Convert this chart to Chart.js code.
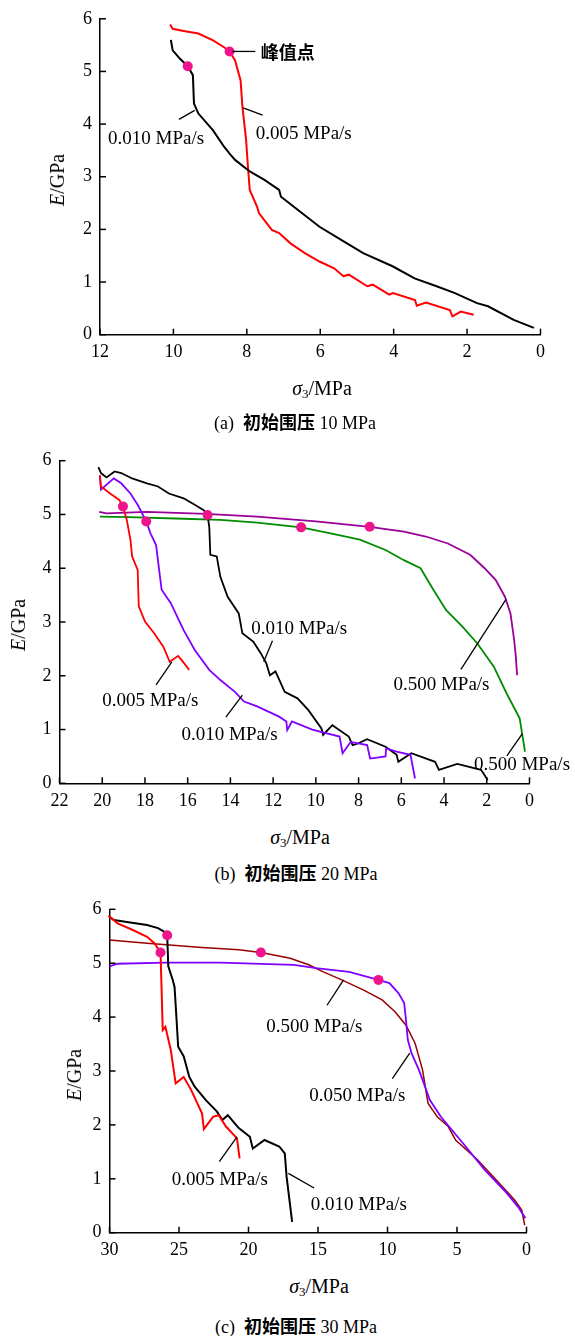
<!DOCTYPE html>
<html><head><meta charset="utf-8">
<script src="https://cdn.jsdelivr.net/npm/chart.js@4.4.1/dist/chart.umd.min.js"></script>
<style>
html,body{margin:0;padding:0;background:#fff;}
#page{position:relative;width:575px;height:1336px;overflow:hidden;font-family:"Liberation Serif","Times New Roman",Times,serif;color:#000;}
.panel{position:absolute;left:0;width:575px;height:380px;}
.panel canvas{position:absolute;left:0;top:0;}
.t{position:absolute;white-space:nowrap;line-height:1;transform:translate(-50%,-50%);}
.ann{position:absolute;white-space:nowrap;line-height:1;font-size:19px;}
.ytitle{font-size:20px;transform:translate(-50%,-50%) rotate(-90deg);}
.xtitle{font-size:20px;}
.xtitle sub{font-size:13px;vertical-align:-3px;line-height:0;}
.cap{font-size:18px;}
.cjk{font-family:"Noto Sans CJK SC","Noto Sans CJK JP",sans-serif;font-weight:bold;}
</style>
</head><body>
<div id="page">
  <div class="panel" id="pA" style="top:0px"><canvas id="cA" width="575" height="380"></canvas></div>
  <div class="panel" id="pB" style="top:440px"><canvas id="cB" width="575" height="380"></canvas></div>
  <div class="panel" id="pC" style="top:890px"><canvas id="cC" width="575" height="380"></canvas></div>

  <div class="t ytitle" style="left:57px;top:180px"><i>E</i>/GPa</div>
  <div class="t xtitle" style="left:322px;top:388px"><i>σ</i><sub>3</sub>/MPa</div>
  <div class="t cap" style="left:295px;top:422px">(a)&nbsp;&nbsp;<span class="cjk">初始围压</span> 10 MPa</div>

  <div class="t ytitle" style="left:18px;top:625px"><i>E</i>/GPa</div>
  <div class="t xtitle" style="left:300px;top:837px"><i>σ</i><sub>3</sub>/MPa</div>
  <div class="t cap" style="left:296px;top:873px">(b)&nbsp;&nbsp;<span class="cjk">初始围压</span> 20 MPa</div>

  <div class="t ytitle" style="left:74px;top:1075px"><i>E</i>/GPa</div>
  <div class="t xtitle" style="left:319px;top:1286px"><i>σ</i><sub>3</sub>/MPa</div>
  <div class="t cap" style="left:296px;top:1326px">(c)&nbsp;&nbsp;<span class="cjk">初始围压</span> 30 MPa</div>
</div>
<script>
// ---------------- DATA ----------------
// Panel (a): initial confining pressure 10 MPa
const sigA_010 = [10.07,10.02,9.82,9.61,9.47,9.44,9.32,8.92,8.62,8.47,8.32,7.92,7.52,7.12,7.07,6.72,6.02,5.43,4.83,4.03,3.43,2.83,2.33,1.73,1.43,0.73,0.18];
const eA_010   = [5.60,5.40,5.24,5.10,4.93,4.39,4.20,3.88,3.57,3.44,3.32,3.10,2.94,2.75,2.62,2.43,2.05,1.80,1.55,1.30,1.07,0.92,0.79,0.60,0.54,0.28,0.13];
const sigA_005 = [10.09,10.02,9.72,9.32,8.92,8.62,8.47,8.32,8.17,8.12,8.02,7.97,7.92,7.72,7.67,7.32,7.12,6.82,6.42,6.02,5.62,5.37,5.22,4.72,4.57,4.12,4.02,3.42,3.37,3.12,2.47,2.40,2.17,1.82];
const eA_005   = [5.89,5.81,5.77,5.72,5.59,5.46,5.38,5.21,4.83,4.33,3.70,3.19,2.75,2.43,2.31,1.99,1.93,1.74,1.55,1.39,1.26,1.11,1.14,0.92,0.95,0.76,0.79,0.66,0.55,0.61,0.47,0.35,0.44,0.38];
const peakA_sig = [9.61, 8.47];
const peakA_e   = [5.10, 5.38];

// Panel (b): initial confining pressure 20 MPa
const sigB_010k = [20.18,20.06,19.80,19.42,19.11,18.60,17.91,17.39,16.88,16.19,15.67,15.25,15.07,14.99,14.94,14.64,14.47,14.13,13.61,13.44,12.92,12.58,12.32,12.15,11.89,11.46,10.86,10.35,9.74,9.66,9.23,8.46,8.28,8.03,7.60,6.74,6.22,6.14,5.53,4.42,4.24,3.38,2.27,2.10,1.96];
const eB_010k   = [5.88,5.77,5.69,5.80,5.77,5.67,5.58,5.52,5.39,5.30,5.18,5.08,4.99,4.77,4.25,4.22,3.84,3.47,3.16,2.79,2.63,2.42,2.23,2.01,2.08,1.70,1.58,1.36,1.02,0.90,1.08,0.87,0.71,0.74,0.82,0.68,0.53,0.40,0.56,0.40,0.25,0.36,0.25,0.15,0.06];
const sigB_005  = [20.11,20.06,19.63,19.20,19.03,18.85,18.68,18.60,18.34,18.29,18.00,17.57,17.14,16.84,16.45,16.28,15.93];
const eB_005    = [5.73,5.52,5.39,5.27,5.15,4.90,4.53,4.22,3.97,3.29,3.01,2.79,2.54,2.26,2.37,2.29,2.11];
const sigB_010v = [20.11,20.06,19.46,19.11,18.68,18.34,17.94,17.74,17.48,17.22,16.79,16.19,15.67,14.99,14.47,13.79,13.36,12.75,11.72,11.38,11.34,11.12,10.17,8.89,8.75,8.37,7.60,7.46,6.74,6.71,6.22,5.57,5.36];
const eB_010v   = [5.73,5.46,5.67,5.58,5.39,5.18,4.87,4.65,4.43,3.60,3.35,2.85,2.48,2.11,1.92,1.70,1.52,1.43,1.24,1.15,0.99,1.15,1.00,0.87,0.56,0.77,0.71,0.46,0.50,0.65,0.59,0.53,0.09];
const sigB_500p = [20.14,19.80,17.91,15.16,12.75,10.00,7.48,5.88,4.85,3.82,2.78,2.10,1.58,1.15,0.89,0.72,0.64,0.58];
const eB_500p   = [5.05,5.02,5.05,5.01,4.96,4.87,4.77,4.68,4.59,4.46,4.25,4.00,3.78,3.47,3.16,2.67,2.36,2.01];
const sigB_500g = [20.11,18.77,16.19,14.47,12.75,10.69,9.31,7.94,6.74,5.88,5.10,4.50,3.90,3.13,2.44,1.67,1.07,0.46,0.21];
const eB_500g   = [4.96,4.95,4.92,4.90,4.85,4.76,4.65,4.53,4.34,4.15,4.00,3.60,3.22,2.91,2.60,2.17,1.67,1.21,0.59];
const peakB_sig = [19.03,17.94,15.07,10.69,7.48];
const peakB_e   = [5.15,4.87,4.99,4.76,4.77];

// Panel (c): initial confining pressure 30 MPa
const sigC_010 = [30.00,29.68,28.63,27.30,26.51,26.11,25.85,25.77,25.45,25.32,25.19,25.06,24.66,24.26,23.87,23.07,22.28,21.88,21.49,20.70,19.90,19.69,18.85,17.79,17.39,17.26,16.86];
const eC_010   = [5.86,5.80,5.76,5.71,5.65,5.59,5.52,4.94,4.69,4.56,4.01,3.45,3.27,2.89,2.71,2.46,2.25,2.09,2.18,1.94,1.78,1.56,1.72,1.60,1.47,1.04,0.20];
const sigC_005 = [30.08,29.42,28.36,27.30,26.77,26.33,26.25,26.17,25.98,25.59,25.24,24.66,24.13,23.34,23.21,22.55,22.15,21.62,20.83,20.64];
const eC_005   = [5.88,5.74,5.62,5.49,5.37,5.20,4.50,3.76,3.82,3.39,2.77,2.89,2.65,2.21,1.92,2.15,2.18,1.97,1.75,1.38];
const sigC_500 = [30.00,27.30,23.34,20.70,19.11,17.00,15.67,14.62,13.29,11.71,10.39,9.46,8.67,8.01,7.48,7.08,6.42,5.63,5.10,3.51,2.19,0.87,0.34,0.13];
const eC_500   = [5.43,5.37,5.29,5.25,5.20,5.09,4.97,4.84,4.69,4.50,4.32,4.10,3.85,3.51,3.02,2.40,2.15,1.97,1.72,1.35,0.98,0.61,0.42,0.14];
const sigC_050 = [30.00,29.42,25.98,22.02,16.73,15.14,12.76,10.65,9.86,9.20,8.80,8.67,8.54,8.27,7.74,6.95,6.16,4.57,2.99,1.40,0.61,0.08];
const eC_050   = [4.94,4.99,5.01,5.01,4.97,4.91,4.84,4.69,4.63,4.44,4.26,3.95,3.58,3.33,3.02,2.46,2.15,1.66,1.16,0.73,0.48,0.27];
const peakC_sig = [26.33,25.85,19.11,10.65];
const peakC_e   = [5.20,5.52,5.20,4.69];

// Axis ticks
const yTicksMax = 6, yStep = 1;
const xMaxA = 12, xStepA = 2;
const xMaxB = 22, xStepB = 2;
const xMaxC = 30, xStepC = 5;

// Annotation labels (data coordinates) and leader lines
const annA = [
  {text:'峰值点', x:7.62, y:5.39, left:true, cjk:true},
  {text:'0.010 MPa/s', x:10.47, y:3.76},
  {text:'0.005 MPa/s', x:6.45, y:3.85}
];
const leadA = [[8.40,5.38,7.77,5.38],[9.85,4.09,9.42,4.26],[8.10,4.31,7.57,4.17]];
const annB = [
  {text:'0.010 MPa/s', x:10.78, y:2.91},
  {text:'0.005 MPa/s', x:17.75, y:1.56},
  {text:'0.010 MPa/s', x:14.04, y:0.94},
  {text:'0.500 MPa/s', x:4.12, y:1.86},
  {text:'0.500 MPa/s', x:0.35, y:0.37}
];
const leadB = [[12.03,2.65,12.44,2.26],[17.48,1.83,16.74,2.26],[14.21,1.23,13.44,1.64],[3.21,2.12,1.10,3.42],[1.06,0.51,0.34,0.92]];
const annC = [
  {text:'0.500 MPa/s', x:15.26, y:3.85},
  {text:'0.050 MPa/s', x:12.17, y:2.57},
  {text:'0.005 MPa/s', x:22.06, y:1.01},
  {text:'0.010 MPa/s', x:12.06, y:0.56}
];
const leadC = [[14.35,4.22,13.16,4.69],[9.65,2.86,8.40,3.33],[22.10,1.32,20.83,1.78],[15.28,0.83,17.13,1.10]];

// ---------------- STYLE ----------------
const C_RED='#FF0000', C_BLACK='#000000', C_VIOLET='#7F00FF', C_PURPLE='#990099', C_GREEN='#008C00', C_BROWN='#990000', C_DOT='#F0148C';
const SERIF = "'Liberation Serif','Times New Roman',Times,serif";

function zip(xs, ys){ return xs.map((x,i)=>({x:x, y:ys[i]})); }
function line(xs, ys, color, w){
  return {data: zip(xs,ys), borderColor: color, backgroundColor: color, borderWidth: w||1.8,
          pointRadius: 0, fill:false, tension:0, clip:false, order: 1};
}
function peaks(xs, ys){
  return {data: zip(xs,ys), showLine:false, pointRadius:5, pointHoverRadius:5, pointBorderWidth:0,
          pointBackgroundColor:C_DOT, borderColor:C_DOT, backgroundColor:C_DOT, clip:false, order:0};
}

const extras = {};
const deco = {
  id:'deco',
  afterDraw(chart){
    const ex = extras[chart.canvas.id]; if(!ex) return;
    const xs = chart.scales.x, ys = chart.scales.y, ctx = chart.ctx;
    ctx.save();
    ctx.strokeStyle = '#000'; ctx.lineWidth = 1.5;
    // inward tick marks
    xs.ticks.forEach(t=>{ const px = xs.getPixelForValue(t.value); ctx.beginPath(); ctx.moveTo(px, ys.bottom); ctx.lineTo(px, ys.bottom-6); ctx.stroke(); });
    ys.ticks.forEach(t=>{ const py = ys.getPixelForValue(t.value); ctx.beginPath(); ctx.moveTo(xs.left, py); ctx.lineTo(xs.left+6, py); ctx.stroke(); });
    // leader lines
    ctx.lineWidth = 1.3;
    ex.leaders.forEach(l=>{ ctx.beginPath(); ctx.moveTo(xs.getPixelForValue(l[0]), ys.getPixelForValue(l[1])); ctx.lineTo(xs.getPixelForValue(l[2]), ys.getPixelForValue(l[3])); ctx.stroke(); });
    ctx.restore();
    // annotation text (DOM text, positioned through the scales)
    const panel = chart.canvas.parentNode;
    ex.anns.forEach(a=>{
      const d = document.createElement('div');
      d.className = 'ann' + (a.cjk ? ' cjk' : '');
      if (a.cjk) d.style.fontSize = '18px';
      d.textContent = a.text;
      d.style.left = xs.getPixelForValue(a.x) + 'px';
      d.style.top = ys.getPixelForValue(a.y) + 'px';
      d.style.transform = a.left ? 'translate(0,-50%)' : 'translate(-50%,-50%)';
      panel.appendChild(d);
    });
    ex.anns = [];
  }
};

function build(id, datasets, xMax, xStep, pad, anns, leaders){
  extras[id] = {anns: anns.slice(), leaders: leaders};
  const tickFont = {family: SERIF, size: 18};
  return new Chart(document.getElementById(id), {
    type: 'line',
    data: {datasets: datasets},
    options: {
      responsive:false, animation:false, events:[],
      layout:{padding: pad},
      plugins:{legend:{display:false}, tooltip:{enabled:false}, title:{display:false}},
      scales:{
        x:{type:'linear', reverse:true, min:0, max:xMax,
           ticks:{stepSize:xStep, font:tickFont, color:'#000', padding:7, maxRotation:0, autoSkip:false},
           grid:{display:false, drawTicks:false}, border:{display:true, color:'#000', width:1.5},
           afterFit(s){ s.height = 30; }},
        y:{type:'linear', min:0, max:yTicksMax,
           ticks:{stepSize:yStep, font:tickFont, color:'#000', padding:8},
           grid:{display:false, drawTicks:false}, border:{display:true, color:'#000', width:1.5},
           afterFit(s){ s.width = 40; }}
      }
    },
    plugins:[deco]
  });
}

build('cA', [
  peaks(peakA_sig, peakA_e),
  line(sigA_010, eA_010, C_BLACK, 2),
  line(sigA_005, eA_005, C_RED, 2)
], xMaxA, xStepA, {left:60, right:34.5, top:18.3, bottom:15.3}, annA, leadA);

build('cB', [
  peaks(peakB_sig, peakB_e),
  line(sigB_005, eB_005, C_RED),
  line(sigB_010v, eB_010v, C_VIOLET),
  line(sigB_010k, eB_010k, C_BLACK),
  line(sigB_500p, eB_500p, C_PURPLE),
  line(sigB_500g, eB_500g, C_GREEN)
], xMaxB, xStepB, {left:19.5, right:45.5, top:20.7, bottom:6.7}, annB, leadB);

build('cC', [
  peaks(peakC_sig, peakC_e),
  line(sigC_005, eC_005, C_RED, 2),
  line(sigC_010, eC_010, C_BLACK, 2),
  line(sigC_050, eC_050, C_VIOLET),
  line(sigC_500, eC_500, C_BROWN, 1.5)
], xMaxC, xStepC, {left:69.5, right:48.5, top:19.3, bottom:7.3}, annC, leadC);
</script>
</body></html>
